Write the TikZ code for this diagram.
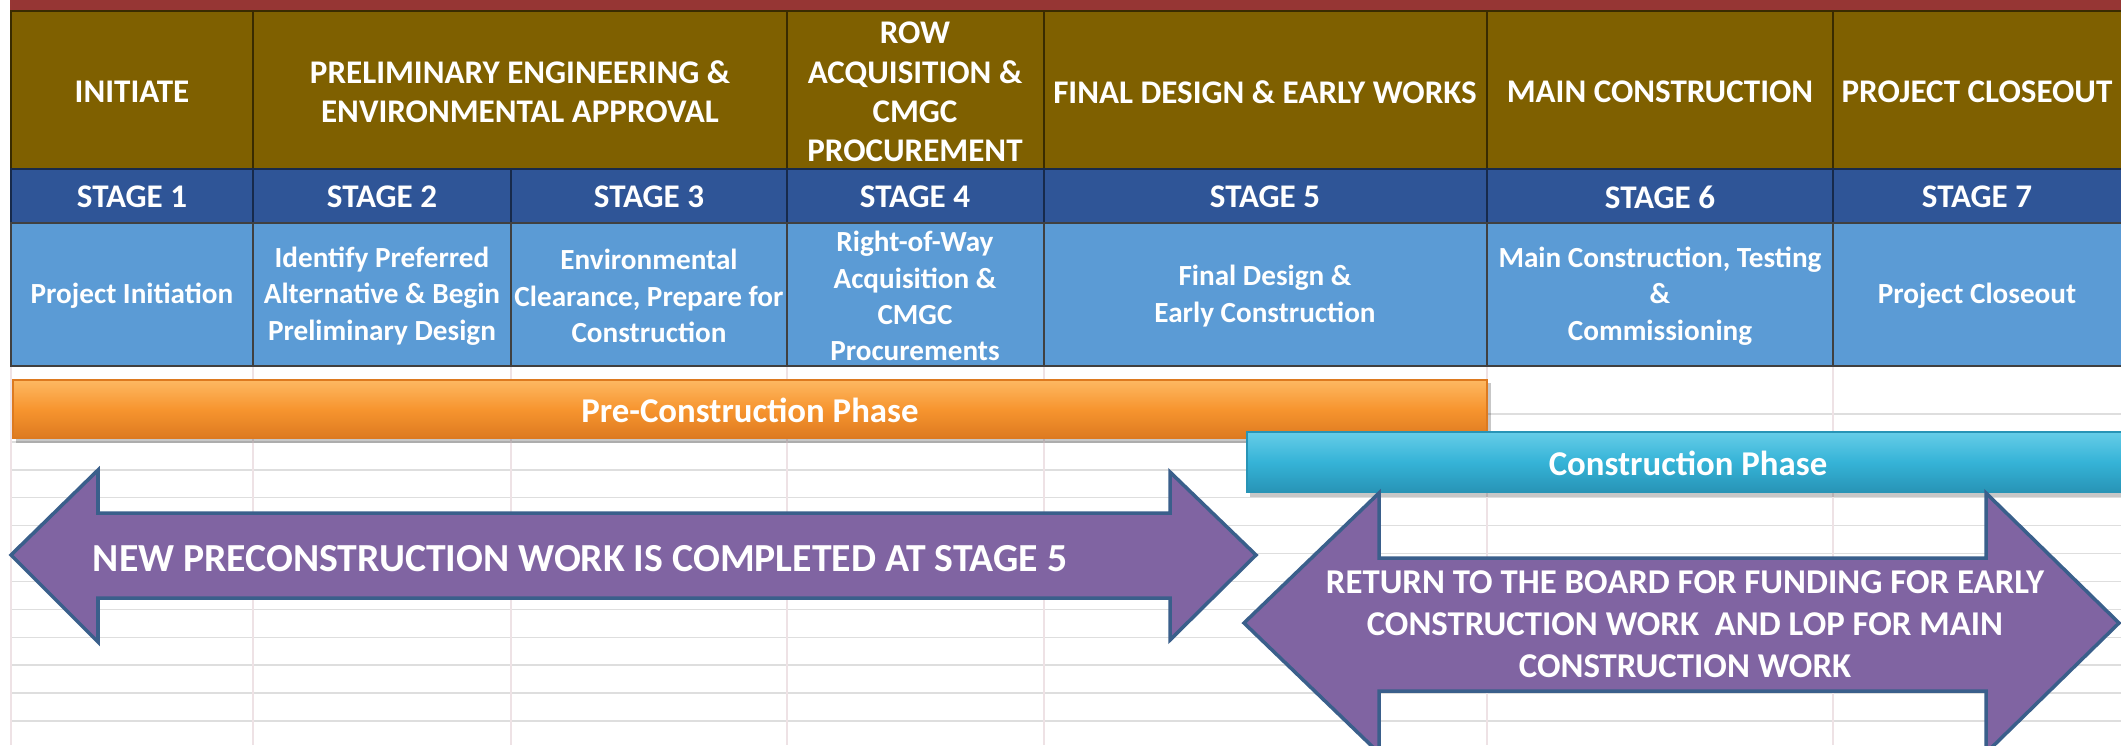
\documentclass[tikz,border=0pt]{standalone}
\usepackage{fontspec}
\setmainfont{Carlito}
\definecolor{titlered}{HTML}{963634}
\definecolor{hdrbrown}{HTML}{7F6000}
\definecolor{stageblue}{HTML}{2F5597}
\definecolor{descblue}{HTML}{5B9BD5}
\definecolor{gridgray}{HTML}{DEDEDE}
\definecolor{gridpink}{HTML}{EEE2E5}
\definecolor{arrowfill}{HTML}{8064A2}
\definecolor{arrowline}{HTML}{3A5F8B}
\definecolor{orangetop}{HTML}{FDB862}
\definecolor{orangemid}{HTML}{F7952F}
\definecolor{orangebot}{HTML}{DD7A20}
\definecolor{cyantop}{HTML}{66CDE8}
\definecolor{cyanmid}{HTML}{35B3D7}
\definecolor{cyanbot}{HTML}{2894B6}
\tikzset{hdrcell/.style={fill=hdrbrown, draw=hdrbrown!45!black, line width=0.6pt},
         stagecell/.style={fill=stageblue, draw=stageblue!50!black, line width=0.6pt},
         desccell/.style={fill=descblue, draw=black!75, line width=0.5pt},
         celltext/.style={text=white, align=center, font=\fontsize{9.4}{11.2}\selectfont\bfseries},
         desctext/.style={celltext, font=\fontsize{8.3}{10.3}\selectfont\bfseries},
         phasetext/.style={celltext, font=\fontsize{9.9}{12}\selectfont\bfseries},
         gridline/.style={gridgray, line width=0.4pt},
         preshade/.style={top color=orangetop, bottom color=orangebot, middle color=orangemid, draw=orangebot, line width=0.3pt},
         conshade/.style={top color=cyantop, bottom color=cyanbot, middle color=cyanmid, draw=cyanbot, line width=0.3pt},
         barshadow/.style={fill=black, opacity=0.22},
         bigarrow/.style={fill=arrowfill, draw=arrowline, line width=1pt, line join=miter}
}
\begin{document}
\begin{tikzpicture}[x=0.01cm, y=-0.01cm]
        \useasboundingbox (0,0) rectangle (2121,745);
        \clip (0,0) rectangle (2121,745);
        \fill [white] (0,0) rectangle (2121,745);
        % spreadsheet grid below the table
        \foreach \y in {414,441.9,...,745}
          \draw [gridline] (11,\y) -- (2121,\y);
        \foreach \x in {11,253,511,787,1044,1487,1833}
          \draw [gridpink, line width=0.4pt] (\x,366) -- (\x,745);
        % title strip and table
        \fill [titlered] (10,0) rectangle (2121,10);
        \foreach \xa/\xb in {11/253, 253/787, 787/1044, 1044/1487, 1487/1833, 1833/2125}
          \draw [hdrcell] (\xa,11) rectangle (\xb,169);
        \foreach \xa/\xb in {11/253, 253/511, 511/787, 787/1044, 1044/1487, 1487/1833, 1833/2125} {
          \draw [stagecell] (\xa,169) rectangle (\xb,223);
          \draw [desccell] (\xa,223) rectangle (\xb,366);
        }
        \node (initiate) [celltext] at (132,92) {INITIATE};
        \node (prelim) [celltext] at (520,92) {PRELIMINARY ENGINEERING \&\\ENVIRONMENTAL APPROVAL};
        \node (rowacq) [celltext] at (915,92) {ROW\\ACQUISITION \&\\CMGC\\PROCUREMENT};
        \node (finaldesign) [celltext] at (1265,92) {FINAL DESIGN \& EARLY WORKS};
        \node (mainconst) [celltext] at (1660,92) {MAIN CONSTRUCTION};
        \node (closeout) [celltext] at (1977,92) {PROJECT CLOSEOUT};
        \foreach \n/\x in {1/132, 2/382, 3/649, 4/915, 5/1265, 6/1660, 7/1977}
          \node (stage\n) [celltext] at (\x,197) {STAGE \n};
        \node (desc1) [desctext] at (132,296) {Project Initiation};
        \node (desc2) [desctext] at (382,296) {Identify Preferred\\Alternative \& Begin\\Preliminary Design};
        \node (desc3) [desctext] at (649,296) {Environmental\\Clearance, Prepare for\\Construction};
        \node (desc4) [desctext] at (915,296) {Right-of-Way\\Acquisition \&\\CMGC\\Procurements};
        \node (desc5) [desctext] at (1265,296) {Final Design \&\\Early Construction};
        \node (desc6) [desctext] at (1660,296) {Main Construction, Testing\\\&\\Commissioning};
        \node (desc7) [desctext] at (1977,296) {Project Closeout};
        % phase bars
        \fill [barshadow] (16,383) rectangle (1491,443);
        \draw [preshade] (13,380) rectangle (1487,438);
        \node (prephase) [phasetext] at (750,410) {Pre-Construction Phase};
        \fill [barshadow] (1250,435) rectangle (2125,497);
        \draw [conshade] (1247,432) rectangle (2125,492);
        \node (conphase) [phasetext] at (1688,463) {Construction Phase};
        % double arrows
        \draw [bigarrow] (11,555) -- (98,470) -- (98,513) -- (1170,513) -- (1170,472) -- (1256,555)
          -- (1170,640) -- (1170,598) -- (98,598) -- (98,642) -- cycle;
        \node (newwork) [celltext, font=\fontsize{11.3}{13}\selectfont\bfseries] at (580,559)
          {NEW PRECONSTRUCTION WORK IS COMPLETED AT STAGE 5};
        \draw [bigarrow] (1244,623) -- (1379,493) -- (1379,558) -- (1986,558) -- (1986,493) -- (2119,623)
          -- (1986,753) -- (1986,691) -- (1379,691) -- (1379,753) -- cycle;
        \node (returnboard) [celltext, font=\fontsize{9.9}{11.9}\selectfont\bfseries] at (1685,624)
          {RETURN TO THE BOARD FOR FUNDING FOR EARLY\\CONSTRUCTION WORK\ \ AND LOP FOR MAIN\\CONSTRUCTION WORK};
      \end{tikzpicture}
\end{document}
